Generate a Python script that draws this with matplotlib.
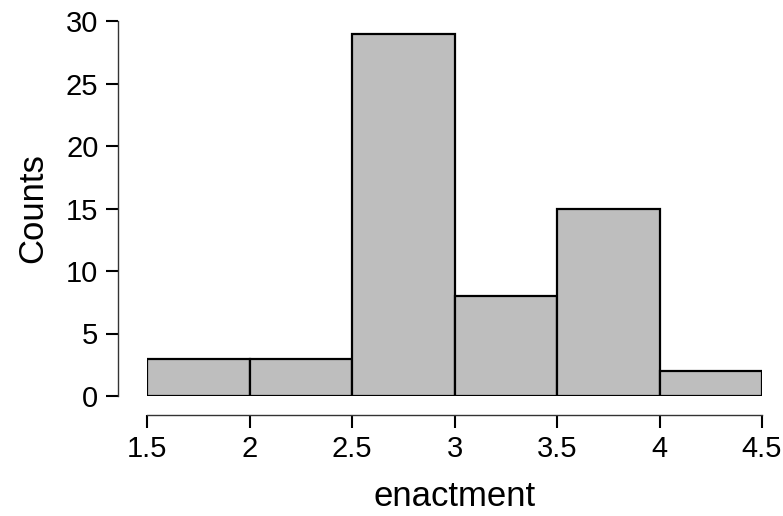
import matplotlib
matplotlib.use("Agg")
import matplotlib.pyplot as plt

plt.rcParams['font.family'] = ['Liberation Sans', 'DejaVu Sans']

edges = [1.5, 2.0, 2.5, 3.0, 3.5, 4.0, 4.5]
counts = [3, 3, 29, 8, 15, 2]
xticks = [1.5, 2, 2.5, 3, 3.5, 4, 4.5]
xlabels = ["1.5", "2", "2.5", "3", "3.5", "4", "4.5"]
yticks = [0, 5, 10, 15, 20, 25, 30]

fig = plt.figure(figsize=(7.83, 5.16), dpi=100)
ax = fig.add_axes([147/783, (516-396)/516, 615/783, 375/516])

lefts = edges[:-1]
widths = [edges[i+1] - edges[i] for i in range(len(counts))]
ax.bar(lefts, counts, width=widths, align='edge', color='#bebebe',
       edgecolor='black', linewidth=1.6)

ax.set_xlim(1.5, 4.5)
ax.set_ylim(0, 30)
ax.set_xticks(xticks)
ax.set_xticklabels(xlabels)
ax.set_yticks(yticks)

for s in ['top', 'right']:
    ax.spines[s].set_visible(False)
ax.spines['left'].set_position(('outward', 21))
ax.spines['bottom'].set_position(('outward', 14))
ax.spines['left'].set_bounds(0, 30)
ax.spines['bottom'].set_bounds(1.5, 4.5)
for s in ['left', 'bottom']:
    ax.spines[s].set_linewidth(1.0)
    ax.spines[s].set_color('#333333')

ax.tick_params(axis='both', length=9, width=1.5, labelsize=21, color='black', pad=5)
ax.set_xlabel("enactment", fontsize=25, labelpad=12)
ax.set_ylabel("Counts", fontsize=25, labelpad=12)

fig.savefig("out.png", dpi=100)
